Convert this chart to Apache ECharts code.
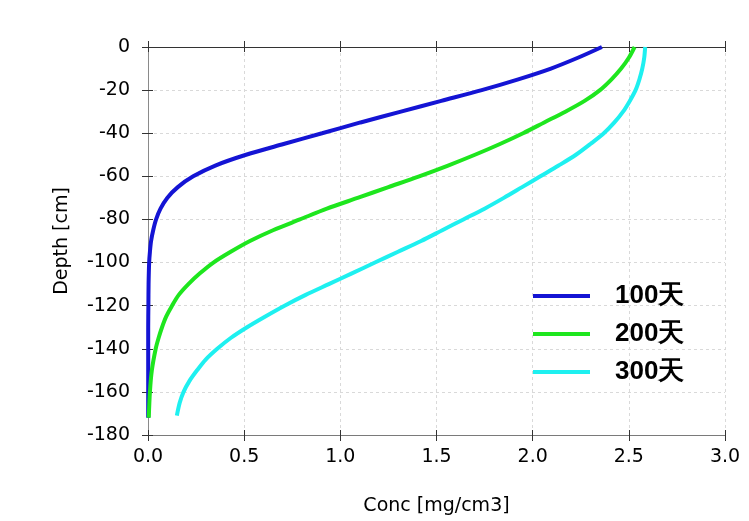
<!DOCTYPE html>
<html>
<head>
<meta charset="utf-8">
<script src="https://cdn.jsdelivr.net/npm/echarts@6/dist/echarts.min.js"></script>
<style>
  html, body { margin: 0; padding: 0; background: #fff; }
  #main { width: 749px; height: 521px; }
</style>
</head>
<body>
<div id="main"></div>
<script>
var chart = echarts.init(document.getElementById('main'));

// 图例名称
var seriesNames = ['100天', '200天', '300天'];

// 深度 (cm) 与浓度 (mg/cm3)
var depth100 = [0, -5, -10, -15, -20, -25, -30, -35, -40, -45, -50, -55, -60, -65, -70, -75, -80, -85, -90, -95, -100, -110, -120, -130, -140, -150, -160, -172];
var conc100 = [2.36, 2.235, 2.095, 1.925, 1.735, 1.525, 1.315, 1.105, 0.905, 0.705, 0.51, 0.35, 0.235, 0.155, 0.10, 0.065, 0.042, 0.027, 0.016, 0.010, 0.006, 0.003, 0.002, 0.001, 0.001, 0.001, 0.001, 0.001];

var depth200 = [0, -5, -10, -15, -20, -25, -30, -35, -40, -45, -50, -55, -60, -65, -70, -75, -80, -85, -90, -95, -100, -105, -110, -115, -120, -125, -130, -135, -140, -150, -160, -172];
var conc200 = [2.53, 2.50, 2.46, 2.41, 2.35, 2.27, 2.17, 2.06, 1.95, 1.83, 1.70, 1.56, 1.41, 1.25, 1.09, 0.93, 0.79, 0.65, 0.53, 0.43, 0.34, 0.27, 0.21, 0.16, 0.125, 0.095, 0.073, 0.055, 0.04, 0.02, 0.01, 0.004];

var depth300 = [0, -5, -10, -15, -20, -25, -30, -35, -40, -45, -50, -55, -60, -65, -70, -75, -80, -85, -90, -95, -100, -105, -110, -115, -120, -125, -130, -135, -140, -145, -150, -155, -160, -165, -171];
var conc300 = [2.585, 2.58, 2.57, 2.555, 2.535, 2.505, 2.47, 2.425, 2.37, 2.30, 2.225, 2.135, 2.04, 1.945, 1.85, 1.75, 1.64, 1.53, 1.42, 1.30, 1.18, 1.06, 0.94, 0.82, 0.71, 0.61, 0.515, 0.43, 0.36, 0.30, 0.255, 0.215, 0.185, 0.165, 0.15];

var lineColors = ['#1414d4', '#1ee61e', '#1ef0f0'];

function pairs(xs, ys) {
    return xs.map(function (x, i) { return [x, ys[i]]; });
}

var labelFont = 'DejaVu Sans, sans-serif';
var legendFont = 'Liberation Sans, Arial, sans-serif';
var gridLine = { show: true, lineStyle: { color: '#d9d9d9', type: [3, 3], width: 1 } };

function makeSeries(i, xs, ys) {
    return {
        name: seriesNames[i],
        type: 'line',
        xAxisIndex: 0,
        yAxisIndex: 0,
        symbol: 'none',
        smooth: 0.3,
        lineStyle: { width: 4, color: lineColors[i] },
        itemStyle: { color: lineColors[i] },
        data: pairs(xs, ys)
    };
}

var option = {
    animation: false,
    textStyle: { fontFamily: labelFont },
    grid: { left: 148, right: 24, top: 47, bottom: 84 },
    legend: {
        orient: 'vertical',
        left: 533,
        top: 283,
        padding: 0,
        itemGap: 12,
        itemWidth: 57,
        itemHeight: 4,
        icon: 'rect',
        textStyle: {
            fontSize: 26,
            fontWeight: 'bold',
            color: '#000',
            fontFamily: legendFont,
            padding: [0, 0, 0, 20]
        },
        data: seriesNames
    },
    xAxis: [{
        type: 'value',
        position: 'bottom',
        min: 0, max: 3, interval: 0.5,
        name: 'Conc [mg/cm3]',
        nameLocation: 'middle',
        nameGap: 62,
        nameTextStyle: { fontSize: 19, color: '#000', fontFamily: labelFont },
        axisLine: { onZero: false, lineStyle: { color: '#7a7a7a', width: 1 } },
        axisTick: { length: 6, lineStyle: { color: '#333' } },
        axisLabel: {
            fontSize: 19, color: '#000', margin: 13, fontFamily: labelFont,
            formatter: function (v) { return v.toFixed(1); }
        },
        splitLine: gridLine
    }, {
        type: 'value',
        position: 'bottom',
        min: 0, max: 3, interval: 0.5,
        axisLine: { show: false, onZero: false },
        axisTick: { inside: true, length: 5, lineStyle: { color: '#333' } },
        axisLabel: { show: false },
        splitLine: { show: false }
    }, {
        type: 'value',
        position: 'top',
        min: 0, max: 3, interval: 0.5,
        axisLine: { onZero: false, lineStyle: { color: '#333', width: 1 } },
        axisTick: { length: 6, lineStyle: { color: '#333' } },
        axisLabel: { show: false },
        splitLine: { show: false }
    }, {
        type: 'value',
        position: 'top',
        min: 0, max: 3, interval: 0.5,
        axisLine: { show: false, onZero: false },
        axisTick: { inside: true, length: 5, lineStyle: { color: '#333' } },
        axisLabel: { show: false },
        splitLine: { show: false }
    }],
    yAxis: [{
        type: 'value',
        min: -180, max: 0, interval: 20,
        name: 'Depth [cm]',
        nameLocation: 'middle',
        nameGap: 76,
        nameTextStyle: { fontSize: 19, color: '#000', fontFamily: labelFont },
        axisLine: { show: true, onZero: false, lineStyle: { color: '#8a8a8a', width: 1 } },
        axisTick: { show: true, length: 6, lineStyle: { color: '#333' } },
        axisLabel: { fontSize: 19, color: '#000', margin: 18, fontFamily: labelFont },
        splitLine: gridLine
    }, {
        type: 'value',
        position: 'left',
        min: -180, max: 0, interval: 20,
        axisLine: { show: false, onZero: false },
        axisTick: { show: true, inside: true, length: 5, lineStyle: { color: '#333' } },
        axisLabel: { show: false },
        splitLine: { show: false }
    }],
    series: [
        makeSeries(0, conc100, depth100),
        makeSeries(1, conc200, depth200),
        makeSeries(2, conc300, depth300)
    ]
};

chart.setOption(option);
</script>
</body>
</html>
